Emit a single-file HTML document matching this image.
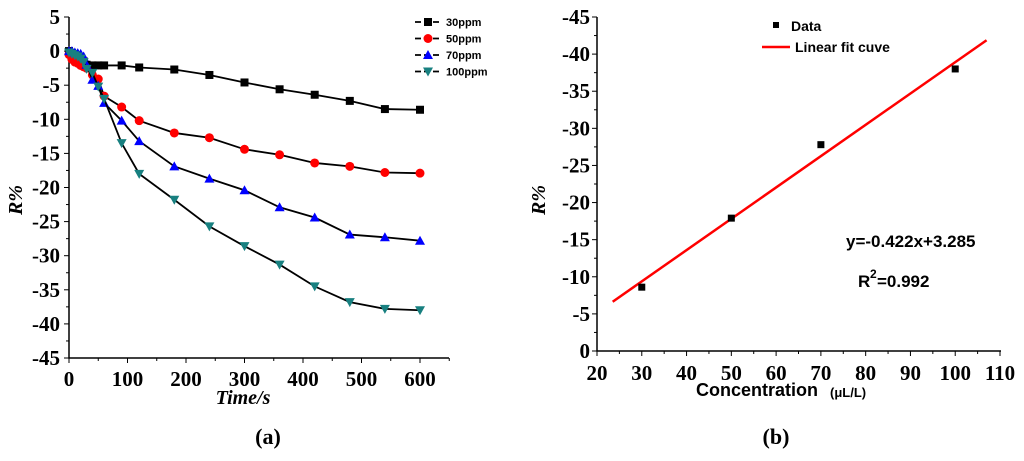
<!DOCTYPE html>
<html><head><meta charset="utf-8"><style>
body{margin:0;background:#fff;width:1024px;height:456px;overflow:hidden}
svg text{font-family:"Liberation Serif",serif;font-weight:bold}
svg text.s{font-family:"Liberation Sans",sans-serif;font-weight:bold}
</style></head><body>
<svg id="c" width="1024" height="456"></svg>
<script>
const times=[0,5,10,15,20,25,30,40,50,60,90,120,180,240,300,360,420,480,540,600];
const r30=[0,-0.3,-0.5,-0.8,-1,-1.5,-2,-2.1,-2.1,-2.1,-2.1,-2.4,-2.7,-3.5,-4.6,-5.6,-6.4,-7.3,-8.5,-8.6];
const r50=[-0.5,-1.2,-1.6,-1.8,-2.1,-2.3,-2.5,-3.5,-4.1,-6.6,-8.2,-10.2,-12,-12.7,-14.4,-15.2,-16.4,-16.9,-17.8,-17.9];
const r70=[0,0,-0.2,-0.3,-0.4,-0.8,-2,-4.2,-5.1,-7.6,-10.2,-13.2,-16.9,-18.7,-20.4,-22.9,-24.4,-26.9,-27.3,-27.8];
const r100=[-0.2,-0.4,-0.6,-0.8,-1.1,-1.6,-2.6,-3.2,-5.2,-7,-13.5,-18,-21.8,-25.7,-28.6,-31.3,-34.5,-36.8,-37.8,-38];
const conc=[30,50,70,100];
const resp=[-8.6,-17.9,-27.8,-38.0];
const slope=-0.422, intercept=3.285, fitRange=[23.5,107];
const leftYTicks=[5,0,-5,-10,-15,-20,-25,-30,-35,-40,-45];
const leftXTicks=[0,100,200,300,400,500,600];
const rightYTicks=[0,-5,-10,-15,-20,-25,-30,-35,-40,-45];
const rightXTicks=[20,30,40,50,60,70,80,90,100,110];

const svg=document.getElementById('c');const NS='http://www.w3.org/2000/svg';
function el(t,a,txt){const e=document.createElementNS(NS,t);for(const k in a)e.setAttribute(k,a[k]);if(txt!==undefined)e.textContent=txt;svg.appendChild(e);return e;}
const lx=v=>69+v*(351/600), ly=v=>17+(5-v)*(341/50);
const ax1=el('path',{d:`M69,17V358H449`,stroke:'#000','stroke-width':1.5,fill:'none'});

leftYTicks.forEach(v=>{const y=ly(v);el('line',{x1:69,x2:64,y1:y,y2:y,stroke:'#000'});
 if(v>-45)el('line',{x1:69,x2:66,y1:ly(v-2.5),y2:ly(v-2.5),stroke:'#000'});
 const t=el('text',{x:60,y:y+7,'text-anchor':'end','font-size':21},String(v));
 });
leftXTicks.forEach(v=>{const x=lx(v);el('line',{x1:x,x2:x,y1:358,y2:363,stroke:'#000'});
 el('line',{x1:lx(v+50),x2:lx(v+50),y1:358,y2:361,stroke:'#000'});
 const t=el('text',{x:x,y:386,'text-anchor':'middle','font-size':21},String(v));
 });
let t=el('text',{x:243,y:404,'text-anchor':'middle','font-size':20,'font-style':'italic'},'Time/s');

t=el('text',{x:22,y:200,'text-anchor':'middle','font-size':20,'font-style':'italic',transform:'rotate(-90 22 200)'},'R%');

function marker(kind,x,y){
 if(kind==='sq')return el('rect',{x:x-4,y:y-4,width:8,height:8,fill:'#000'});
 if(kind==='ci')return el('circle',{cx:x,cy:y,r:4.5,fill:'#f00'});
 if(kind==='up')return el('path',{d:`M${x},${y-5}L${x+5},${y+4}L${x-5},${y+4}Z`,fill:'#00f'});
 return el('path',{d:`M${x},${y+5}L${x+5},${y-4}L${x-5},${y-4}Z`,fill:'#188080'});}
const series=[[r30,'sq','30ppm'],[r50,'ci','50ppm'],[r70,'up','70ppm'],[r100,'dn','100ppm']];
series.forEach(([d,k,n],i)=>{
 const p=el('polyline',{points:times.map((tt,j)=>lx(tt)+','+ly(d[j])).join(' '),fill:'none',stroke:'#000','stroke-width':1.8});
 
 times.forEach((tt,j)=>{const m=marker(k,lx(tt),ly(d[j]));});
 const ly0=22+i*16.5;
 el('line',{x1:415,x2:442,y1:ly0,y2:ly0,stroke:'#000','stroke-width':1.8,'stroke-dasharray':'6,3'});
 marker(k,428,ly0);
 const lt=el('text',{x:446,y:ly0+4,'font-size':11,class:'s'},n);
 });
t=el('text',{x:268,y:444,'text-anchor':'middle','font-size':22},'(a)');

const rx=v=>597+(v-20)*(403/90), ry=v=>351+v*(334/45);
const ax2=el('path',{d:`M597,17V351H1001`,stroke:'#000','stroke-width':1.5,fill:'none'});

rightYTicks.forEach(v=>{const y=ry(v);el('line',{x1:597,x2:592,y1:y,y2:y,stroke:'#000'});
 if(v>-45)el('line',{x1:597,x2:594,y1:ry(v-2.5),y2:ry(v-2.5),stroke:'#000'});
 const tt=el('text',{x:590,y:y+7,'text-anchor':'end','font-size':21},String(v));
 });
rightXTicks.forEach(v=>{const x=rx(v);el('line',{x1:x,x2:x,y1:351,y2:356,stroke:'#000'});
 if(v<110)el('line',{x1:rx(v+5),x2:rx(v+5),y1:351,y2:354,stroke:'#000'});
 const tt=el('text',{x:x,y:380,'text-anchor':'middle','font-size':21},String(v));
 });
t=el('text',{x:696,y:396,'font-size':18,class:'s'},'Concentration');

el('text',{x:830,y:397,'font-size':13,class:'s'},'(μL/L)');
t=el('text',{x:545,y:200,'text-anchor':'middle','font-size':20,'font-style':'italic',transform:'rotate(-90 545 200)'},'R%');

const fl=el('line',{x1:rx(fitRange[0]),y1:ry(slope*fitRange[0]+intercept),x2:rx(fitRange[1]),y2:ry(slope*fitRange[1]+intercept),stroke:'#f00','stroke-width':2.5});

conc.forEach((c,i)=>{const m=el('rect',{x:rx(c)-3.5,y:ry(resp[i])-3.5,width:7,height:7,fill:'#000'});
 });
el('rect',{x:773,y:22,width:6,height:6,fill:'#000'});
t=el('text',{x:791,y:31,'font-size':14,class:'s'},'Data');
el('line',{x1:762,x2:790,y1:47,y2:47,stroke:'#f00','stroke-width':2.5});
t=el('text',{x:795,y:52,'font-size':14,class:'s'},'Linear fit cuve');
t=el('text',{x:846,y:247,'font-size':17,class:'s'},'y=-0.422x+3.285');
t=el('text',{x:858,y:287,'font-size':17,class:'s'},'R');
el('text',{x:870,y:278,'font-size':12,class:'s'},'2');
el('text',{x:877,y:287,'font-size':17,class:'s'},'=0.992');
t=el('text',{x:776,y:444,'text-anchor':'middle','font-size':22},'(b)');

</script></body></html>
